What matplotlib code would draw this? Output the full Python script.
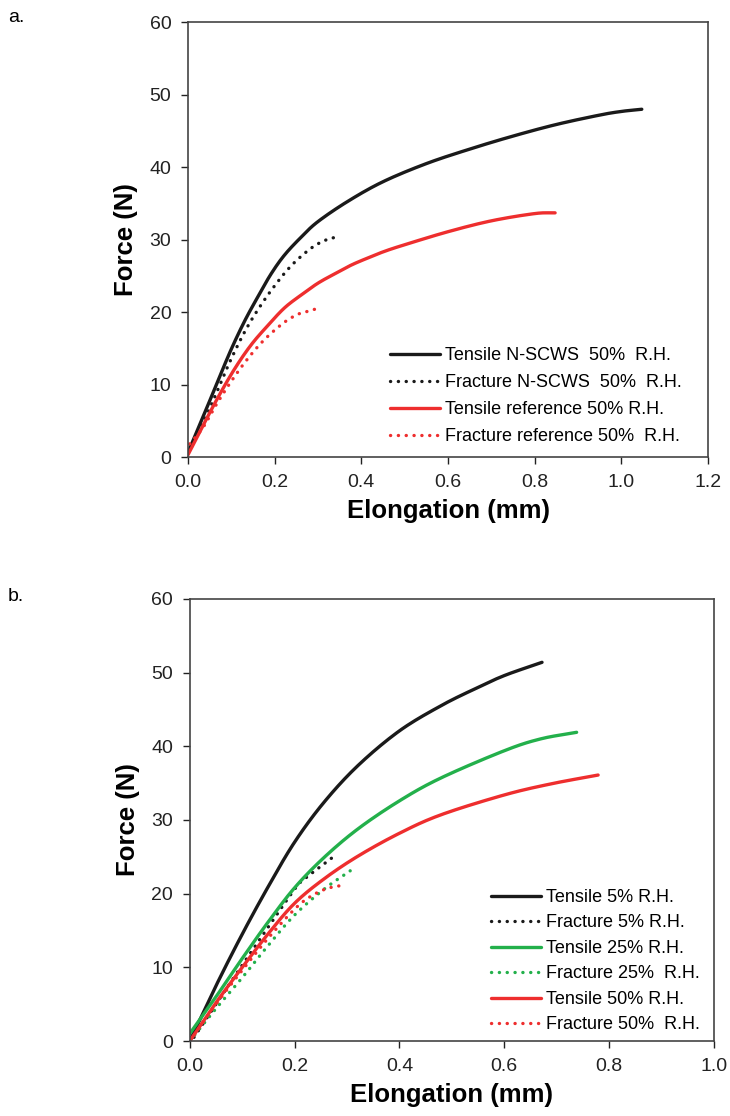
import matplotlib.pyplot as plt
import numpy as np

plt.rcParams['font.family'] = ['Liberation Sans', 'DejaVu Sans']

# ---- panel a: 50% R.H., N-SCWS vs reference ----
a_tens_nscws_x = [0, 0.038, 0.069, 0.1, 0.131, 0.162, 0.192, 0.223, 0.262, 0.3, 0.369,
                  0.45, 0.55, 0.65, 0.75, 0.85, 0.95, 1.0, 1.047]
a_tens_nscws_y = [0.6, 6.0, 10.5, 14.9, 18.8, 22.2, 25.3, 27.9, 30.4, 32.5, 35.3,
                  38.0, 40.5, 42.5, 44.3, 45.9, 47.2, 47.7, 48.0]
a_frac_nscws_x = [0, 0.03, 0.064, 0.097, 0.131, 0.162, 0.197, 0.235, 0.277, 0.312, 0.35]
a_frac_nscws_y = [0.5, 4.0, 8.6, 13.2, 17.3, 20.4, 23.4, 26.2, 28.5, 29.8, 30.5]
a_tens_ref_x = [0, 0.03, 0.069, 0.108, 0.146, 0.185, 0.223, 0.262, 0.3, 0.339, 0.377,
                0.416, 0.454, 0.5, 0.6, 0.7, 0.8, 0.847]
a_tens_ref_y = [0.3, 3.8, 8.2, 12.2, 15.5, 18.2, 20.6, 22.4, 24.0, 25.3, 26.5,
                27.5, 28.4, 29.3, 31.1, 32.6, 33.6, 33.7]
a_frac_ref_x = [0.004, 0.035, 0.066, 0.097, 0.133, 0.173, 0.218, 0.25, 0.27, 0.293]
a_frac_ref_y = [1.8, 4.1, 7.3, 10.2, 13.2, 16.0, 18.4, 19.6, 20.0, 20.4]
a_labels = ['Tensile N-SCWS  50%  R.H.', 'Fracture N-SCWS  50%  R.H.',
            'Tensile reference 50% R.H.', 'Fracture reference 50%  R.H.']

# ---- panel b: reference at 5/25/50% R.H. ----
b_t5_x = [0, 0.05, 0.1, 0.15, 0.2, 0.256, 0.321, 0.4, 0.479, 0.544, 0.6, 0.672]
b_t5_y = [0, 7.5, 14.5, 21.0, 27.0, 32.4, 37.4, 42.1, 45.5, 47.8, 49.6, 51.4]
b_f5_x = [0.008, 0.05, 0.1, 0.15, 0.2, 0.219, 0.272]
b_f5_y = [0.5, 5.0, 10.3, 15.5, 20.6, 22.0, 24.9]
b_t25_x = [0, 0.05, 0.1, 0.15, 0.2, 0.256, 0.321, 0.4, 0.479, 0.6, 0.669, 0.738]
b_t25_y = [1.0, 6.0, 11.2, 16.2, 20.8, 24.9, 28.8, 32.6, 35.7, 39.4, 41.0, 41.9]
b_f25_x = [0, 0.05, 0.1, 0.15, 0.2, 0.256, 0.306]
b_f25_y = [0, 4.4, 8.6, 13.0, 17.1, 20.6, 23.1]
b_t50_x = [0, 0.05, 0.1, 0.15, 0.2, 0.256, 0.321, 0.4, 0.479, 0.6, 0.689, 0.779]
b_t50_y = [0, 5.2, 10.0, 14.6, 18.7, 22.0, 25.1, 28.2, 30.7, 33.4, 34.9, 36.1]
b_f50_x = [0, 0.05, 0.1, 0.15, 0.2, 0.23, 0.262, 0.297]
b_f50_y = [0, 5.0, 9.6, 14.0, 17.9, 19.6, 20.7, 21.2]
b_labels = ['Tensile 5% R.H.', 'Fracture 5% R.H.', 'Tensile 25% R.H.',
            'Fracture 25%  R.H.', 'Tensile 50% R.H.', 'Fracture 50%  R.H.']

BLACK = '#1a1a1a'
RED = '#ee2e2e'
GREEN = '#23b04b'
dots = (0, (0.05, 2.3))


def smooth(x, y, n=16):
    # catmull-rom through the read points, just to draw a smooth curve
    x = np.asarray(x, float)
    y = np.asarray(y, float)
    px = np.concatenate([[2 * x[0] - x[1]], x, [2 * x[-1] - x[-2]]])
    py = np.concatenate([[2 * y[0] - y[1]], y, [2 * y[-1] - y[-2]]])
    t = np.linspace(0, 1, n, endpoint=False)
    xs, ys = [], []
    for i in range(1, len(px) - 2):
        for p, out in ((px, xs), (py, ys)):
            p0, p1, p2, p3 = p[i - 1], p[i], p[i + 1], p[i + 2]
            out.extend(0.5 * (2 * p1 + (-p0 + p2) * t + (2 * p0 - 5 * p1 + 4 * p2 - p3) * t ** 2
                              + (-p0 + 3 * p1 - 3 * p2 + p3) * t ** 3))
    xs.append(x[-1])
    ys.append(y[-1])
    return xs, ys


def tens(ax, x, y, c, lab):
    xs, ys = smooth(x, y)
    ax.plot(xs, ys, color=c, lw=2.4, solid_capstyle='round', label=lab)


def frac(ax, x, y, c, lab):
    xs, ys = smooth(x, y)
    ax.plot(xs, ys, color=c, lw=2.4, linestyle=dots, dash_capstyle='round', label=lab)


def style(ax, xmax, xstep):
    ax.set_ylim(0, 60)
    ax.set_xlim(0, xmax)
    ax.set_yticks(np.arange(0, 61, 10))
    ax.set_xticks(np.arange(0, xmax + 1e-9, xstep))
    ax.xaxis.set_major_formatter(plt.FormatStrFormatter('%.1f'))
    ax.tick_params(direction='out', length=5, width=1, labelsize=14, colors='#222222', pad=7)
    for s in ax.spines.values():
        s.set_color('#444444')
        s.set_linewidth(1.2)
    ax.set_xlabel('Elongation (mm)', fontsize=18.5, fontweight='bold', labelpad=6)
    ax.set_ylabel('Force (N)', fontsize=18.5, fontweight='bold', labelpad=8)


fig = plt.figure(figsize=(7.3, 11.16), dpi=100)

ax1 = fig.add_axes([0.2575, 0.5905, 0.7125, 0.3895])
tens(ax1, a_tens_nscws_x, a_tens_nscws_y, BLACK, a_labels[0])
frac(ax1, a_frac_nscws_x, a_frac_nscws_y, BLACK, a_labels[1])
tens(ax1, a_tens_ref_x, a_tens_ref_y, RED, a_labels[2])
frac(ax1, a_frac_ref_x, a_frac_ref_y, RED, a_labels[3])
style(ax1, 1.2, 0.2)
ax1.legend(loc='upper left', bbox_to_anchor=(0.388, 0.253), frameon=False, fontsize=13,
           handlelength=2.8, handletextpad=0.28, labelspacing=0.56, borderpad=0,
           borderaxespad=0)

ax2 = fig.add_axes([0.260, 0.0672, 0.718, 0.3961])
tens(ax2, b_t5_x, b_t5_y, BLACK, b_labels[0])
frac(ax2, b_f5_x, b_f5_y, BLACK, b_labels[1])
tens(ax2, b_t25_x, b_t25_y, GREEN, b_labels[2])
frac(ax2, b_f25_x, b_f25_y, GREEN, b_labels[3])
tens(ax2, b_t50_x, b_t50_y, RED, b_labels[4])
frac(ax2, b_f50_x, b_f50_y, RED, b_labels[5])
style(ax2, 1.0, 0.2)
ax2.legend(loc='upper left', bbox_to_anchor=(0.574, 0.344), frameon=False, fontsize=13,
           handlelength=2.8, handletextpad=0.28, labelspacing=0.47, borderpad=0,
           borderaxespad=0)

fig.text(0.011, 0.992, 'a.', fontsize=14, va='top')
fig.text(0.011, 0.473, 'b.', fontsize=14, va='top')

fig.savefig('out.png', dpi=100)
